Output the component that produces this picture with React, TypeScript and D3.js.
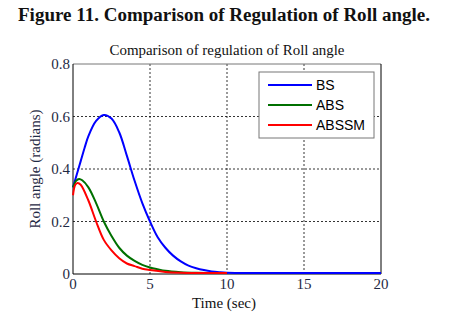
import React from "react";
import * as d3 from "d3";

const figureTitle = "Figure 11. Comparison of Regulation of Roll angle.";
const chartTitle = "Comparison of regulation of Roll angle";
const xLabel = "Time (sec)";
const yLabel = "Roll angle (radians)";
const xTicks = [0, 5, 10, 15, 20];
const yTicks = [0, 0.2, 0.4, 0.6, 0.8];
const yTickLabels = ["0", "0.2", "0.4", "0.6", "0.8"];
const seriesNames = ["BS", "ABS", "ABSSM"];
const seriesColors = ["#0000ff", "#007000", "#ff0000"];

const bsTime = [0, 0.25, 0.5, 0.75, 1, 1.5, 2, 2.5, 3, 3.5, 4, 4.5, 5, 5.5, 6, 6.5, 7, 7.5, 8, 8.5, 9, 9.5, 10, 12, 15, 20];
const bsValues = [0.33, 0.38, 0.43, 0.48, 0.525, 0.583, 0.606, 0.592, 0.54, 0.45, 0.355, 0.27, 0.2, 0.14, 0.1, 0.07, 0.048, 0.032, 0.022, 0.015, 0.01, 0.007, 0.005, 0.004, 0.004, 0.004];
const absTime = [0, 0.2, 0.4, 0.6, 1, 1.5, 2, 2.5, 3, 3.5, 4, 4.5, 5, 5.5, 6, 7, 8, 10];
const absValues = [0.33, 0.355, 0.362, 0.357, 0.33, 0.27, 0.2, 0.145, 0.1, 0.07, 0.05, 0.035, 0.025, 0.018, 0.012, 0.007, 0.005, 0.004];
const absmTime = [0, 0.15, 0.3, 0.5, 1, 1.5, 2, 2.5, 3, 3.5, 4, 4.5, 5, 6, 7, 8, 10];
const absmValues = [0.3, 0.34, 0.347, 0.34, 0.28, 0.2, 0.13, 0.09, 0.06, 0.04, 0.03, 0.02, 0.015, 0.008, 0.005, 0.004, 0.004];

const W = 465, H = 324;
const L = 73, R = 381, T = 64, B = 274;

export default function App() {
  const x = d3.scaleLinear().domain([0, 20]).range([L, R]);
  const y = d3.scaleLinear().domain([0, 0.8]).range([B, T]);
  const line = d3.line<[number, number]>().x(d => x(d[0])).y(d => y(d[1])).curve(d3.curveCatmullRom.alpha(0.5));
  const series = [
    { t: bsTime, v: bsValues },
    { t: absTime, v: absValues },
    { t: absmTime, v: absmValues },
  ];
  const serif = "'Liberation Serif', 'Times New Roman', serif";
  const sans = "'Liberation Sans', Arial, sans-serif";
  const tickColor = "#1f2a44";
  return (
    <svg width={W} height={H} style={{ position: "absolute", left: 0, top: 0, background: "#fff" }}>
      <text x={18} y={21} fontFamily={serif} fontWeight="bold" fontSize={18} textLength={412} lengthAdjust="spacingAndGlyphs" fill="#111">{figureTitle}</text>
      <text x={(L + R) / 2} y={55} textAnchor="middle" fontFamily={serif} fontSize={14.5} textLength={235} lengthAdjust="spacingAndGlyphs" fill="#111">{chartTitle}</text>
      {/* grid */}
      {xTicks.filter(t => t > 0 && t < 20).map(t => (
        <line key={"gx" + t} x1={x(t)} x2={x(t)} y1={T} y2={B} stroke="#000" strokeWidth={0.8} strokeDasharray="2,2" />
      ))}
      {yTicks.filter(t => t > 0 && t < 0.8).map(t => (
        <line key={"gy" + t} x1={L} x2={R} y1={y(t)} y2={y(t)} stroke="#000" strokeWidth={0.8} strokeDasharray="2,2" />
      ))}
      {/* frame */}
      <line x1={L} x2={R} y1={T} y2={T} stroke="#777" strokeWidth={1} />
      <line x1={R} x2={R} y1={T} y2={B} stroke="#000" strokeWidth={1} />
      <line x1={L} x2={L} y1={T} y2={B} stroke="#000" strokeWidth={1} />
      <line x1={L} x2={R} y1={B} y2={B} stroke="#000" strokeWidth={1} />
      {/* series */}
      {series.map((s, i) => (
        <path key={i} d={line(s.t.map((t, j) => [t, s.v[j]] as [number, number])) || ""} fill="none" stroke={seriesColors[i]} strokeWidth={2} />
      ))}
      {/* tick labels */}
      {xTicks.map(t => (
        <text key={"xl" + t} x={x(t)} y={289} textAnchor="middle" fontFamily={serif} fontSize={15} fill={tickColor}>{t}</text>
      ))}
      {yTicks.map((t, i) => (
        <text key={"yl" + t} x={L - 3} y={y(t) + 5} textAnchor="end" fontFamily={serif} fontSize={15} fill={tickColor}>{yTickLabels[i]}</text>
      ))}
      <text x={224} y={308} textAnchor="middle" fontFamily={serif} fontSize={15} fill="#111">{xLabel}</text>
      <text transform={`translate(40, ${(T + B) / 2}) rotate(-90)`} textAnchor="middle" fontFamily={serif} fontSize={15} fill={tickColor}>{yLabel}</text>
      {/* legend */}
      <rect x={259} y={72} width={115} height={66} fill="#fff" stroke="#777" strokeWidth={1} />
      {seriesNames.map((n, i) => (
        <g key={n}>
          <line x1={268} x2={312} y1={85 + i * 20} y2={85 + i * 20} stroke={seriesColors[i]} strokeWidth={2} />
          <text x={316} y={90 + i * 20} fontFamily={sans} fontSize={14} fill="#000">{n}</text>
        </g>
      ))}
    </svg>
  );
}
